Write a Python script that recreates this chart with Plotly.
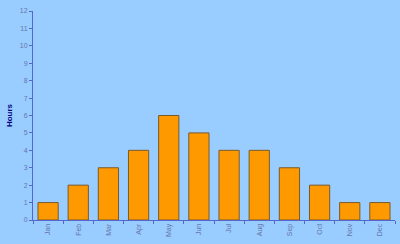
import plotly.graph_objects as go

months = ["Jan", "Feb", "Mar", "Apr", "May", "Jun", "Jul", "Aug", "Sep", "Oct", "Nov", "Dec"]
hours = [1, 2, 3, 4, 6, 5, 4, 4, 3, 2, 1, 1]
y_ticks = list(range(0, 13))

fig = go.Figure(go.Bar(
    x=months, y=hours,
    marker=dict(color="#FF9900", line=dict(color="#7A5A2A", width=1)),
))
fig.update_layout(
    width=400, height=244,
    margin=dict(l=33, r=5, t=11, b=24),
    paper_bgcolor="#99CCFF", plot_bgcolor="#99CCFF",
    bargap=0.33, showlegend=False,
    font=dict(family="Liberation Sans, Arial, sans-serif", size=7, color="#6677AA"),
)
fig.update_xaxes(
    tickangle=-90, showline=True, linecolor="#5566CC", linewidth=1,
    ticks="outside", ticklen=3, tickcolor="#5566CC", tickson="boundaries",
    showgrid=False, tickfont=dict(size=7, color="#6677AA"),
)
fig.update_yaxes(
    range=[0, 12], tickvals=y_ticks, showline=True, linecolor="#5566CC", linewidth=1,
    ticks="outside", ticklen=3, tickcolor="#5566CC", showgrid=False, zeroline=False,
    tickfont=dict(size=7, color="#6677AA"),
    title=dict(text="<b>Hours</b>", font=dict(size=8, color="#000080"), standoff=6),
)
fig.write_html("out.html")
